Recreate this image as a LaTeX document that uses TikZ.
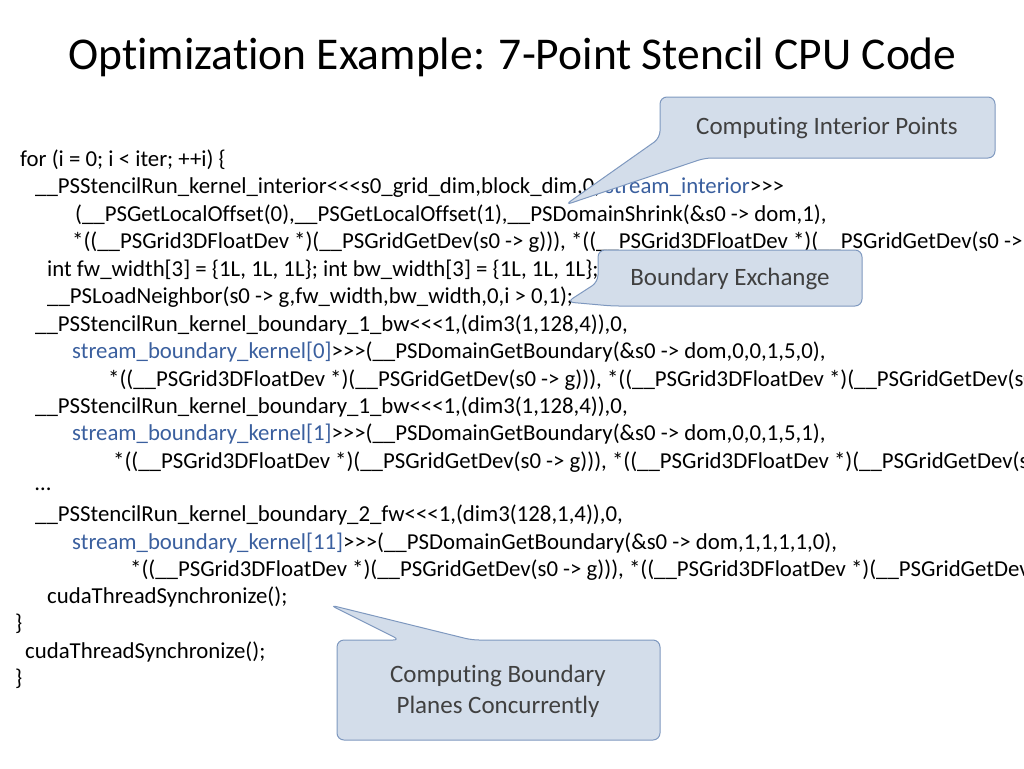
\documentclass[tikz,border=0pt]{standalone}
\usepackage{fontspec}
\setmainfont{Carlito}[Ligatures={TeXOff,NoCommon}]
\definecolor{streamblue}{HTML}{3A5F9E}
\definecolor{calloutfill}{HTML}{D3DDEA}
\definecolor{calloutline}{HTML}{7E98BF}
\definecolor{callouttext}{HTML}{404040}
\tikzset{
  code/.style={anchor=west, inner sep=0pt, font=\fontsize{22.8}{25}\selectfont},
  callout/.style={fill=calloutfill, draw=calloutline, line width=1pt, rounded corners=7pt},
  calltext/.style={align=center, text=callouttext, font=\fontsize{25}{31}\selectfont}
}
\newcommand{\strm}[1]{\textcolor{streamblue}{#1}}
\begin{document}
\catcode`\_=12
\begin{tikzpicture}[x=1pt,y=-1pt]
\useasboundingbox (0,0) rectangle (1024,768);
\clip (0,0) rectangle (1024,768);

% title
\node[anchor=west, inner sep=0pt, font=\fontsize{45.5}{50}\selectfont] (title) at (68,57) {Optimization Example: 7-Point Stencil CPU Code};

% code lines
\node[code] (l1) at (20,160) {for (i = 0; i < iter; ++i) \{};
\node[code] (l2) at (35,188) {__PSStencilRun_kernel_interior<<<s0_grid_dim,block_dim,0, \strm{stream_interior}>>>};
\node[code] (l3) at (75,215) {(__PSGetLocalOffset(0),__PSGetLocalOffset(1),__PSDomainShrink(\&s0 -> dom,1),};
\node[code] (l4) at (72,242) {*((__PSGrid3DFloatDev *)(__PSGridGetDev(s0 -> g))), *((__PSGrid3DFloatDev *)(__PSGridGetDev(s0 -> g)))};
\node[code] (l5) at (47,270) {int fw_width[3] = \{1L, 1L, 1L\}; int bw_width[3] = \{1L, 1L, 1L\};};
\node[code] (l6) at (47,297) {__PSLoadNeighbor(s0 -> g,fw_width,bw_width,0,i > 0,1);};
\node[code] (l7) at (35,325) {__PSStencilRun_kernel_boundary_1_bw<<<1,(dim3(1,128,4)),0,};
\node[code] (l8) at (72,352) {\strm{stream_boundary_kernel[0]}>>>(__PSDomainGetBoundary(\&s0 -> dom,0,0,1,5,0),};
\node[code] (l9) at (108,380) {*((__PSGrid3DFloatDev *)(__PSGridGetDev(s0 -> g))), *((__PSGrid3DFloatDev *)(__PSGridGetDev(s0 -> g)))};
\node[code] (l10) at (35,407) {__PSStencilRun_kernel_boundary_1_bw<<<1,(dim3(1,128,4)),0,};
\node[code] (l11) at (72,434) {\strm{stream_boundary_kernel[1]}>>>(__PSDomainGetBoundary(\&s0 -> dom,0,0,1,5,1),};
\node[code] (l12) at (113,462) {*((__PSGrid3DFloatDev *)(__PSGridGetDev(s0 -> g))), *((__PSGrid3DFloatDev *)(__PSGridGetDev(s0 -> g)))};
\node[code] (l13) at (35,489) {…};
\node[code] (l14) at (35,515) {__PSStencilRun_kernel_boundary_2_fw<<<1,(dim3(128,1,4)),0,};
\node[code] (l15) at (72,543) {\strm{stream_boundary_kernel[11]}>>>(__PSDomainGetBoundary(\&s0 -> dom,1,1,1,1,0),};
\node[code] (l16) at (130,570) {*((__PSGrid3DFloatDev *)(__PSGridGetDev(s0 -> g))), *((__PSGrid3DFloatDev *)(__PSGridGetDev(s0 -> g)))};
\node[code] (l17) at (47,597) {cudaThreadSynchronize();};
\node[code] (l18) at (15,624) {\}};
\node[code] (l19) at (25,652) {cudaThreadSynchronize();};
\node[code] (l20) at (15,679) {\}};

% callouts
\draw[callout] (660,138) -- (565,205) -- (705,158) -- (995,158) -- (995,97) -- (660,97) -- cycle;
\node[calltext] (interior) at (827,128) {Computing Interior Points};

\draw[callout] (598,282) -- (567,302) -- (612,306) -- (862,306) -- (862,250) -- (598,250) -- cycle;
\node[calltext] (exchange) at (730,279) {Boundary Exchange};

\draw[callout] (337,640) -- (400,640) -- (330,605) -- (472,640) -- (660,640) -- (660,740) -- (337,740) -- cycle;
\node[calltext] (planes) at (498,691) {Computing Boundary\\Planes Concurrently};
\end{tikzpicture}
\end{document}
